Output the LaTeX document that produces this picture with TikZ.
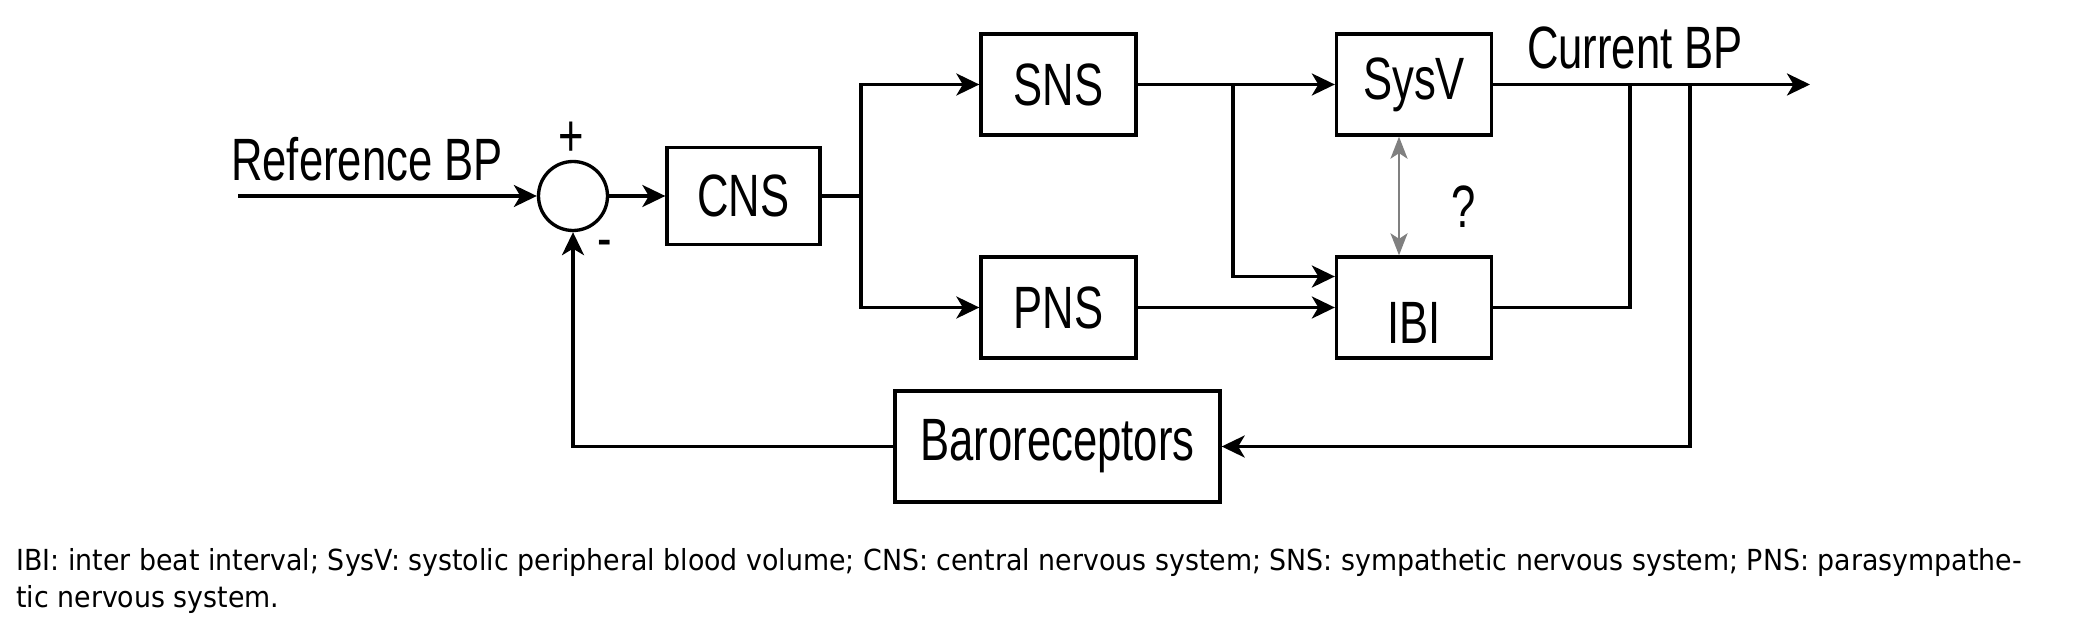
\documentclass[tikz,border=0pt]{standalone}
\usepackage{fontspec}
\setmainfont{Liberation Sans}[FakeStretch=0.73]
\newfontfamily\notefont{DejaVu Sans}[FakeStretch=0.925]
\usetikzlibrary{arrows.meta}
\tikzset{
  block/.style={draw, line width=1.9pt, minimum width=3.1cm, minimum height=2.02cm, font=\fontsize{34}{36}\selectfont},
  lbl/.style={font=\fontsize{34}{36}\selectfont},
  sig/.style={line width=1.9pt},
  sigarr/.style={line width=1.9pt, -{Stealth[length=4.6mm, width=4.4mm, inset=1.3mm]}},
}
\begin{document}
\begin{tikzpicture}
  \useasboundingbox (0,0) rectangle (41.66,12.58);

  \node[circle, draw, line width=1.9pt, minimum size=1.38cm] (sum) at (11.46,8.66) {};
  \node[lbl, anchor=base] (ref) at (7.34,8.97) {Reference BP};
  \node[lbl] (plus) at (11.42,9.8) {+};
  \node[lbl] (minus) at (12.1,7.6) {-};
  \coordinate (in) at (4.76,8.66);
  \draw[sigarr] (in)--(sum.west);

  \node[block, minimum width=3.06cm, minimum height=1.94cm] (cns) at (14.87,8.66) {CNS};
  \draw[sigarr] (sum.east)--(cns.west);

  \node[block] (sns) at (21.17,10.89) {SNS};
  \node[block] (pns) at (21.17,6.43) {PNS};
  \coordinate (split) at (17.22,8.66);
  \draw[sig] (cns.east)--(split);
  \draw[sigarr] (split) |- (sns.west);
  \draw[sigarr] (split) |- (pns.west);

  \node[block] (sysv) at (28.28,10.89) {SysV};
  \node[block] (ibi) at (28.28,6.43) {\raisebox{-0.3cm}[\height][\depth]{IBI}};
  \draw[sigarr] (sns.east)--(sysv.west);
  \coordinate (branch) at (24.66,10.89);
  \draw[sigarr] (branch) |- ([yshift=0.62cm]ibi.west);
  \draw[sigarr] (pns.east)--(ibi.west);
  \draw[gray, line width=1.5pt, {Stealth[length=4.4mm, width=3.4mm, inset=1.1mm]}-{Stealth[length=4.4mm, width=3.4mm, inset=1.1mm]}] ([xshift=-0.3cm]sysv.south)--([xshift=-0.3cm]ibi.north);
  \node[lbl] (query) at (29.28,8.44) {?};

  \coordinate (out) at (36.2,10.89);
  \draw[sigarr] (sysv.east)--(out);
  \node[lbl, anchor=base] (cur) at (32.7,11.2) {Current BP};
  \coordinate (merge) at (32.6,10.89);
  \draw[sig] (ibi.east) -| (merge);

  \node[block, minimum width=6.5cm, minimum height=2.22cm] (baro) at (21.15,3.65) {Baroreceptors};
  \coordinate (tap) at (33.8,10.89);
  \draw[sigarr] (tap) |- (baro.east);
  \draw[sigarr] (baro.west) -| (sum.south);

  \node[anchor=north west, align=left, inner sep=0pt, font=\notefont\fontsize{16.5}{21}\selectfont] (note) at (0.32,1.62)
    {IBI: inter beat interval; SysV: systolic peripheral blood volume; CNS: central nervous system; SNS: sympathetic nervous system; PNS: parasympathe-\\tic nervous system.};
\end{tikzpicture}
\end{document}
